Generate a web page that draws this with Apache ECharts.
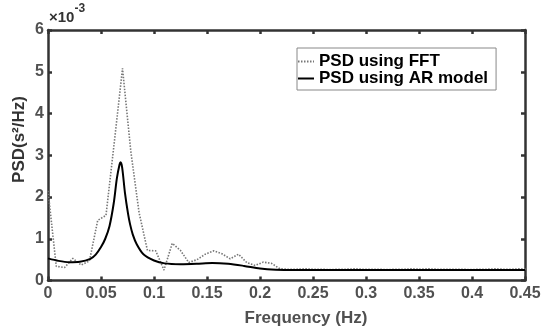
<!DOCTYPE html>
<html lang="en">
<head>
    <meta charset="UTF-8">
    <title>PSD</title>
    <style>
        html, body { margin: 0; padding: 0; background: #fff; }
        #main { width: 557px; height: 329px; }
    </style>
</head>
<body>
<div id="main"></div>
<script src="https://cdn.jsdelivr.net/npm/echarts@6/dist/echarts.min.js"></script>
<script type="text/javascript">
    // PSD values in units of 1e-3 s^2/Hz
    var fftFreq = [0, 0.0078, 0.0156, 0.0234, 0.0313, 0.0391, 0.0469, 0.0547, 0.0625, 0.0703,
        0.0781, 0.0859, 0.0938, 0.1016, 0.1094, 0.1172, 0.125, 0.1328, 0.1406, 0.1484,
        0.1563, 0.1641, 0.1719, 0.1797, 0.1875, 0.1953, 0.2031, 0.2109, 0.2188, 0.2266,
        0.2344, 0.2422, 0.25, 0.2578, 0.2656, 0.2734, 0.2813, 0.2891, 0.2969, 0.3047,
        0.3125, 0.3203, 0.3281, 0.3359, 0.3438, 0.3516, 0.3594, 0.3672, 0.375, 0.3828,
        0.3906, 0.3984, 0.4063, 0.4141, 0.4219, 0.4297, 0.4375, 0.4453, 0.4531];
    var fftPsd = [2.15, 0.34, 0.31, 0.53, 0.37, 0.47, 1.44, 1.56, 3.3, 5.08,
        3.1, 1.63, 0.72, 0.71, 0.25, 0.89, 0.72, 0.43, 0.5, 0.63,
        0.71, 0.64, 0.52, 0.63, 0.43, 0.36, 0.44, 0.41, 0.28, 0.27,
        0.27, 0.28, 0.27, 0.27, 0.26, 0.27, 0.27, 0.28, 0.27, 0.27,
        0.27, 0.26, 0.27, 0.27, 0.28, 0.27, 0.28, 0.27, 0.27, 0.27,
        0.27, 0.26, 0.27, 0.27, 0.28, 0.27, 0.27, 0.28, 0.27];

    var arFreq = [0, 0.01, 0.02, 0.03, 0.04, 0.045, 0.05, 0.054, 0.058, 0.062,
        0.065, 0.0675, 0.0685, 0.07, 0.0726, 0.0755, 0.0774, 0.08, 0.0837, 0.09,
        0.1, 0.11, 0.125, 0.14, 0.155, 0.17, 0.185, 0.2, 0.215, 0.23,
        0.26, 0.3, 0.35, 0.4, 0.45];
    var arPsd = [0.53, 0.47, 0.44, 0.45, 0.52, 0.62, 0.8, 1.0, 1.3, 1.85,
        2.45, 2.78, 2.83, 2.7, 2.1, 1.6, 1.35, 1.1, 0.87, 0.63,
        0.48, 0.41, 0.39, 0.40, 0.42, 0.40, 0.35, 0.29, 0.26, 0.25,
        0.25, 0.25, 0.25, 0.25, 0.25];

    var seriesNames = ['PSD using FFT', 'PSD using AR model'];

    function pairs(xs, ys) {
        return xs.map(function (x, i) { return [x, ys[i]]; });
    }

    var font = '"Liberation Sans", Arial, Helvetica, sans-serif';
    var axisColor = '#333';
    var labelStyle = { fontSize: 16, fontWeight: 'bold', color: '#505050', fontFamily: font };

    function boxAxis(pos, showLabel, min, max, interval, margin) {
        return {
            type: 'value',
            position: pos,
            min: min,
            max: max,
            interval: interval,
            axisLine: { show: true, onZero: false, lineStyle: { color: axisColor, width: 2.5 } },
            axisTick: { show: true, inside: true, length: 4, lineStyle: { color: axisColor, width: 2.5 } },
            axisLabel: Object.assign({ show: showLabel, margin: margin }, labelStyle),
            splitLine: { show: false }
        };
    }

    var myChart = echarts.init(document.getElementById('main'));
    myChart.setOption({
        backgroundColor: '#fff',
        animation: false,
        grid: { left: 48, right: 32, top: 30, bottom: 48.5 },
        xAxis: [
            boxAxis('bottom', true, 0, 0.45, 0.05, 5),
            boxAxis('top', false, 0, 0.45, 0.05, 5)
        ],
        yAxis: [
            boxAxis('left', true, 0, 6, 1, 4),
            boxAxis('right', false, 0, 6, 1, 4)
        ],
        legend: {
            orient: 'vertical',
            left: 297,
            top: 48,
            padding: [5, 8, 3, 0],
            itemGap: 0,
            itemWidth: 16,
            itemHeight: 15,
            borderColor: '#888',
            borderWidth: 1,
            borderRadius: 0,
            backgroundColor: '#fff',
            itemStyle: { opacity: 0 },
            textStyle: { fontSize: 17, fontWeight: 'bold', color: '#000', fontFamily: font, lineHeight: 15 },
            data: seriesNames
        },
        graphic: [
            {
                type: 'text',
                x: 19,
                y: 139.5,
                rotation: Math.PI / 2,
                style: {
                    text: 'PSD(s²/Hz)',
                    fontSize: 17, fontWeight: 'bold', fontFamily: font, fill: '#333',
                    textAlign: 'center', textVerticalAlign: 'middle'
                }
            },
            {
                type: 'text',
                x: 306,
                y: 318,
                style: {
                    text: 'Frequency (Hz)',
                    fontSize: 17, fontWeight: 'bold', fontFamily: font, fill: '#505050',
                    textAlign: 'center', textVerticalAlign: 'middle'
                }
            },
            {
                type: 'text',
                x: 49,
                y: 3,
                style: {
                    text: '{a|×10}{b|-3}',
                    rich: {
                        a: { fontSize: 15, fontWeight: 'bold', fontFamily: font, fill: '#333', lineHeight: 22, verticalAlign: 'bottom' },
                        b: { fontSize: 12, fontWeight: 'bold', fontFamily: font, fill: '#333', verticalAlign: 'top' }
                    }
                }
            }
        ],
        series: [
            {
                name: seriesNames[0],
                type: 'line',
                symbol: 'none',
                data: pairs(fftFreq, fftPsd),
                lineStyle: { color: '#777', width: 1.6, type: [1.5, 1.5] },
                itemStyle: { color: '#777' }
            },
            {
                name: seriesNames[1],
                type: 'line',
                symbol: 'none',
                smooth: 0.3,
                data: pairs(arFreq, arPsd),
                lineStyle: { color: '#000', width: 2 },
                itemStyle: { color: '#000' }
            }
        ]
    });
</script>
</body>
</html>
